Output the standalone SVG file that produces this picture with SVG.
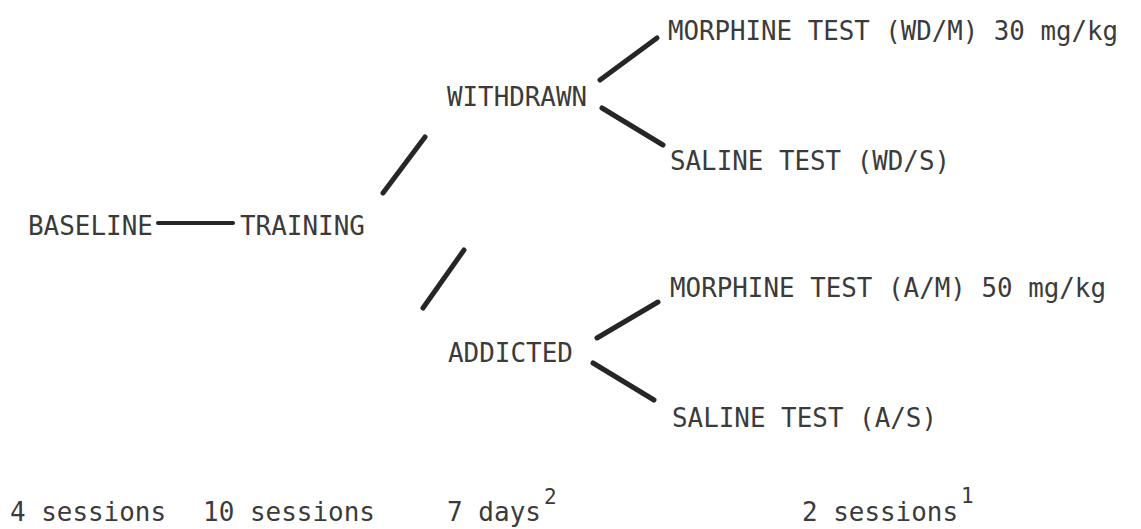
<svg xmlns="http://www.w3.org/2000/svg" width="1141" height="529" viewBox="0 0 1141 529">
<style>
  .lbl { font-family: "DejaVu Sans Mono", "Liberation Mono", monospace; font-size: 26.5px; fill: #3b3b3b; }
  .sup { font-family: "DejaVu Sans Mono", "Liberation Mono", monospace; font-size: 21px; fill: #3b3b3b; }
  .edge { stroke: #262626; stroke-width: 5; stroke-linecap: round; fill: none; }
</style>
<rect x="0" y="0" width="1141" height="529" fill="#ffffff"/>
<g id="connectors">
  <line class="edge" x1="158" y1="223" x2="233" y2="223" style="stroke-width:4"/>
  <line class="edge" x1="383" y1="193" x2="425" y2="137"/>
  <line class="edge" x1="423" y1="308" x2="464" y2="250"/>
  <line class="edge" x1="600" y1="80" x2="657" y2="38"/>
  <line class="edge" x1="602" y1="108" x2="663" y2="145"/>
  <line class="edge" x1="597" y1="338" x2="658" y2="302"/>
  <line class="edge" x1="593" y1="363" x2="654" y2="400"/>
</g>
<g id="baseline"><text class="lbl" x="28" y="235" textLength="125" lengthAdjust="spacingAndGlyphs">BASELINE</text></g>
<g id="training"><text class="lbl" x="240" y="235" textLength="125" lengthAdjust="spacingAndGlyphs">TRAINING</text></g>
<g id="withdrawn"><text class="lbl" x="447" y="106" textLength="140" lengthAdjust="spacingAndGlyphs">WITHDRAWN</text></g>
<g id="addicted"><text class="lbl" x="448" y="362" textLength="125" lengthAdjust="spacingAndGlyphs">ADDICTED</text></g>
<g id="morphine-wd"><text class="lbl" x="668" y="40" textLength="450" lengthAdjust="spacingAndGlyphs">MORPHINE TEST (WD/M) 30 mg/kg</text></g>
<g id="saline-wd"><text class="lbl" x="670" y="170" textLength="280" lengthAdjust="spacingAndGlyphs">SALINE TEST (WD/S)</text></g>
<g id="morphine-a"><text class="lbl" x="670" y="297" textLength="436" lengthAdjust="spacingAndGlyphs">MORPHINE TEST (A/M) 50 mg/kg</text></g>
<g id="saline-a"><text class="lbl" x="672" y="427" textLength="265" lengthAdjust="spacingAndGlyphs">SALINE TEST (A/S)</text></g>
<g id="timeline">
  <text class="lbl" x="10" y="521" textLength="156" lengthAdjust="spacingAndGlyphs">4 sessions</text>
  <text class="lbl" x="203" y="521" textLength="172" lengthAdjust="spacingAndGlyphs">10 sessions</text>
  <text class="lbl" x="447" y="521" textLength="94" lengthAdjust="spacingAndGlyphs">7 days</text>
  <text class="sup" x="544" y="504">2</text>
  <text class="lbl" x="802" y="521" textLength="156" lengthAdjust="spacingAndGlyphs">2 sessions</text>
  <text class="sup" x="961" y="503">1</text>
</g>
</svg>
